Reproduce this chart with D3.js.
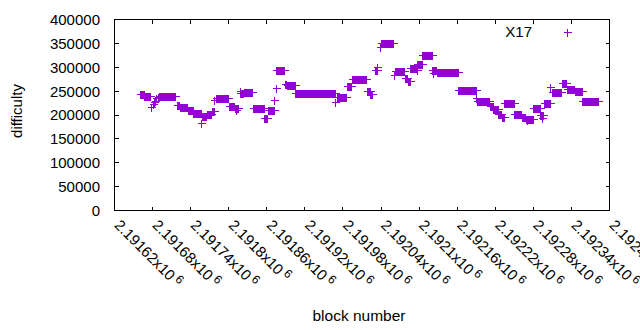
<!DOCTYPE html>
<html>
<head>
<meta charset="utf-8">
<script src="https://cdn.jsdelivr.net/npm/d3@7"></script>
<style>
  body { margin: 0; background: #fff; }
  svg { display: block; font-family: "Liberation Sans", Arial, sans-serif; }
</style>
</head>
<body>
<svg id="chart" width="640" height="330"></svg>
<script>
// runs of blocks that share one difficulty value (start block, end block, difficulty)
const runStart = [
  2191660, 2191667, 2191678, 2191680, 2191682, 2191684, 2191686, 2191688, 2191690, 2191718,
  2191723, 2191736, 2191744, 2191757, 2191758, 2191765, 2191773, 2191777, 2191780, 2191800,
  2191810, 2191812, 2191817, 2191818, 2191824, 2191838, 2191856, 2191862, 2191872, 2191874,
  2191875, 2191888, 2191892, 2191905, 2191968, 2191970, 2191986, 2191994, 2192018, 2192023,
  2192030, 2192033, 2192038, 2192040, 2192061, 2192062, 2192077, 2192082, 2192086, 2192096,
  2192097, 2192105, 2192121, 2192122, 2192128, 2192162, 2192190, 2192191, 2192211, 2192217,
  2192225, 2192230, 2192234, 2192250, 2192262, 2192268, 2192270, 2192280, 2192291, 2192294,
  2192296, 2192307, 2192309, 2192325, 2192333, 2192345, 2192357
];
const runEnd = [
  2191666, 2191676, 2191678, 2191680, 2191682, 2191684, 2191686, 2191688, 2191716, 2191722,
  2191735, 2191743, 2191756, 2191757, 2191764, 2191772, 2191776, 2191777, 2191799, 2191809,
  2191814, 2191812, 2191817, 2191823, 2191836, 2191855, 2191861, 2191871, 2191872, 2191874,
  2191887, 2191891, 2191904, 2191967, 2191968, 2191984, 2191992, 2192017, 2192022, 2192026,
  2192034, 2192033, 2192038, 2192059, 2192061, 2192076, 2192081, 2192085, 2192095, 2192104,
  2192097, 2192120, 2192127, 2192122, 2192161, 2192189, 2192190, 2192210, 2192216, 2192224,
  2192229, 2192233, 2192249, 2192261, 2192267, 2192279, 2192270, 2192290, 2192295, 2192294,
  2192306, 2192307, 2192324, 2192332, 2192344, 2192356, 2192382
];
const runDifficulty = [
  243000, 239500, 216000, 224000, 227700, 230000, 234700, 237500, 239000, 220000,
  216000, 210500, 203500, 182700, 198000, 201500, 208000, 231000, 234700, 219000,
  215000, 210000, 250500, 246000, 247500, 214000, 193000, 211000, 230600, 255600,
  293500, 265500, 262000, 247000, 228000, 237000, 261500, 276000, 250500, 245000,
  294000, 300000, 343000, 351000, 283000, 293000, 277000, 271500, 299000, 307500,
  293700, 326500, 293500, 288000, 290500, 252000, 234700, 228500, 219000, 213000,
  202800, 196500, 224300, 202700, 196500, 192500, 188500, 214000, 201000, 193000,
  224300, 257700, 247300, 268000, 253500, 249300, 230200
];

const xTicks = [2191620, 2191680, 2191740, 2191800, 2191860, 2191920, 2191980,
  2192040, 2192100, 2192160, 2192220, 2192280, 2192340, 2192400];
const yTicks = [0, 50000, 100000, 150000, 200000, 250000, 300000, 350000, 400000];
const seriesName = 'X17';
const xTitle = 'block number';
const yTitle = 'difficulty';

const color = '#9400d3';

const points = [];
runStart.forEach((s, i) => {
  for (let b = s; b <= runEnd[i]; b++) points.push({ block: b, difficulty: runDifficulty[i] });
});

const svg = d3.select('#chart');

const x = d3.scaleLinear()
  .domain([xTicks[0], xTicks[xTicks.length - 1]])
  .range([114.5, 609.5]);

const y = d3.scaleLinear()
  .domain([yTicks[0], yTicks[yTicks.length - 1]])
  .range([210.5, 19.5]);

// ticks on all four sides, pointing inwards
const tick = 4;
const axes = svg.append('g')
  .attr('stroke', '#000')
  .attr('stroke-width', 1)
  .attr('shape-rendering', 'crispEdges');

axes.selectAll('.xt')
  .data(xTicks)
  .join('path')
  .attr('d', d => `M${x(d)},${y.range()[0]}v${-tick}M${x(d)},${y.range()[1]}v${tick}`);

axes.selectAll('.yt')
  .data(yTicks)
  .join('path')
  .attr('d', d => `M${x.range()[0]},${y(d)}h${tick}M${x.range()[1]},${y(d)}h${-tick}`);

axes.append('rect')
  .attr('x', x.range()[0])
  .attr('y', y.range()[1])
  .attr('width', x.range()[1] - x.range()[0])
  .attr('height', y.range()[0] - y.range()[1])
  .attr('fill', 'none');

// y tick labels
svg.append('g')
  .selectAll('text')
  .data(yTicks)
  .join('text')
  .attr('x', 100)
  .attr('y', d => y(d))
  .attr('dy', '0.36em')
  .attr('text-anchor', 'end')
  .attr('font-size', 15)
  .attr('fill', '#000')
  .text(d => d);

// x tick labels, rotated, mantissa x10^6
const xl = svg.append('g')
  .selectAll('text')
  .data(xTicks)
  .join('text')
  .attr('transform', d => `translate(${x(d) - 1},226) rotate(45)`)
  .attr('font-size', 15)
  .attr('fill', '#000');
xl.append('tspan').text(d => `${+(d / 1e6).toFixed(5)}x10`);
xl.append('tspan')
  .attr('dx', 3)
  .attr('dy', -5)
  .attr('font-size', 12)
  .text('6');

// axis titles
svg.append('text')
  .attr('x', 359)
  .attr('y', 321)
  .attr('text-anchor', 'middle')
  .attr('font-size', 15.5)
  .text(xTitle);

svg.append('text')
  .attr('transform', 'translate(22,111) rotate(-90)')
  .attr('text-anchor', 'middle')
  .attr('font-size', 15)
  .text(yTitle);

// data points as '+' marks
const plus = (cx, cy) => `M${cx - 4},${cy}h8M${cx},${cy - 4}v8`;

svg.append('g')
  .attr('stroke', color)
  .attr('stroke-width', 1)
  .attr('fill', 'none')
  .attr('shape-rendering', 'crispEdges')
  .selectAll('path')
  .data(points)
  .join('path')
  .attr('d', d => plus(Math.round(x(d.block)) + 0.5, Math.round(y(d.difficulty)) + 0.5));

// legend
svg.append('text')
  .attr('x', 532)
  .attr('y', 37)
  .attr('text-anchor', 'end')
  .attr('font-size', 15)
  .text(seriesName);

svg.append('path')
  .attr('d', plus(567.5, 32.5))
  .attr('stroke', color)
  .attr('shape-rendering', 'crispEdges');
</script>
</body>
</html>
